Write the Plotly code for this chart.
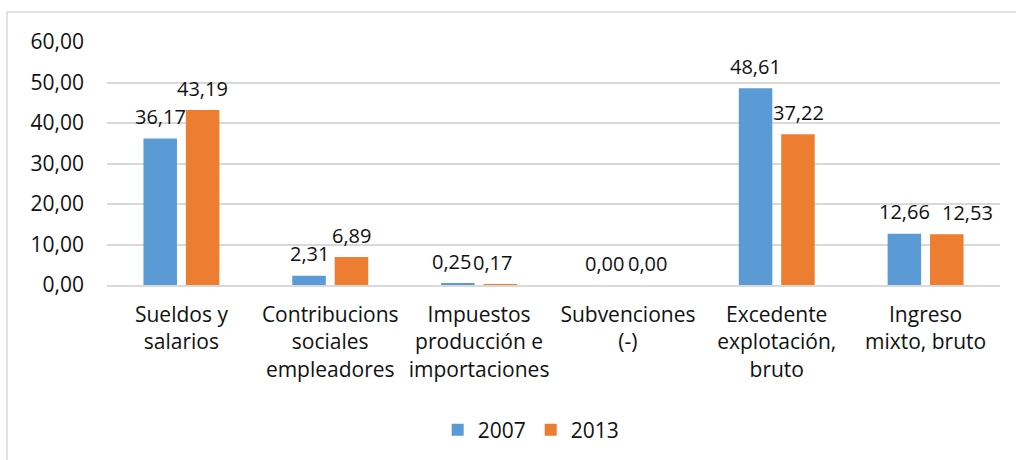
import plotly.graph_objects as go

categories = [
    "Sueldos y<br>salarios",
    "Contribucions<br>sociales<br>empleadores",
    "Impuestos<br>producción e<br>importaciones",
    "Subvenciones<br>(-)",
    "Excedente<br>explotación,<br>bruto",
    "Ingreso<br>mixto, bruto",
]
values_2007 = [36.17, 2.31, 0.25, 0.00, 48.61, 12.66]
values_2013 = [43.19, 6.89, 0.17, 0.00, 37.22, 12.53]
y_ticks = [0, 10, 20, 30, 40, 50, 60]

FONT = "Open Sans"
TXT = "#111111"
FS = 21
LFS = 20

# horizontal pixel offset of each data label from its category centre
# (group slot half-width, with small nudges where labels would collide)
SLOT = 21.25
label_nudge_2007 = {2: -6, 3: -2}
label_nudge_2013 = {2: -8, 3: -2, 5: 21}

fig = go.Figure()
fig.add_trace(go.Bar(
    name="2007", x=categories, y=values_2007,
    marker=dict(color="#5B9BD5", line=dict(width=0)),
))
fig.add_trace(go.Bar(
    name="2013", x=categories, y=values_2013,
    marker=dict(color="#ED7D31", line=dict(width=0)),
))

for i, (c, v) in enumerate(zip(categories, values_2007)):
    fig.add_annotation(x=c, y=v, xref="x", yref="y", text=f"{v:.2f}".replace(".", ","),
                       showarrow=False, xanchor="center", yanchor="middle",
                       xshift=-SLOT + label_nudge_2007.get(i, 0), yshift=22,
                       font=dict(family=FONT, size=LFS, color=TXT))
for i, (c, v) in enumerate(zip(categories, values_2013)):
    fig.add_annotation(x=c, y=v, xref="x", yref="y", text=f"{v:.2f}".replace(".", ","),
                       showarrow=False, xanchor="center", yanchor="middle",
                       xshift=SLOT + label_nudge_2013.get(i, 0), yshift=22,
                       font=dict(family=FONT, size=LFS, color=TXT))

fig.update_layout(
    width=1016, height=460,
    margin=dict(l=107, r=16, t=42, b=175, autoexpand=False),
    paper_bgcolor="white", plot_bgcolor="white",
    separators=",.",
    barmode="group", bargap=0.43, bargroupgap=0.21,
    font=dict(family=FONT, size=FS, color=TXT),
    showlegend=True,
    legend=dict(orientation="h", x=0.475, xanchor="center", y=-0.597, yanchor="middle",
                font=dict(family=FONT, size=FS, color=TXT), itemwidth=30,
                traceorder="normal"),
)
fig.update_yaxes(
    range=[0, 60], tickvals=y_ticks, tickformat=".2f", automargin=False,
    showgrid=True, gridcolor="#D9D9D9", gridwidth=1.5,
    zeroline=False, showline=False, ticks="", ticklabelstandoff=22,
    tickfont=dict(family=FONT, size=FS, color=TXT),
)
fig.update_xaxes(
    automargin=False,
    showgrid=False, showline=True, linecolor="#D9D9D9", linewidth=1.5,
    ticks="", tickangle=0, ticklabelstandoff=10,
    tickfont=dict(family=FONT, size=FS, color=TXT),
)

# chart-area border (left and top edges visible in the reference)
fig.add_shape(type="line", xref="paper", yref="paper",
              x0=(7 - 107) / 893, x1=(1030 - 107) / 893,
              y0=1 + 30 / 243, y1=1 + 30 / 243,
              line=dict(color="#D9D9D9", width=1.5))
fig.add_shape(type="line", xref="paper", yref="paper",
              x0=(7 - 107) / 893, x1=(7 - 107) / 893,
              y0=1 + 30 / 243, y1=-200 / 243,
              line=dict(color="#D9D9D9", width=1.5))

fig.write_html("out.html", config={"displayModeBar": False},
               post_script="document.body.style.margin='0px';document.body.style.overflow='hidden';")
